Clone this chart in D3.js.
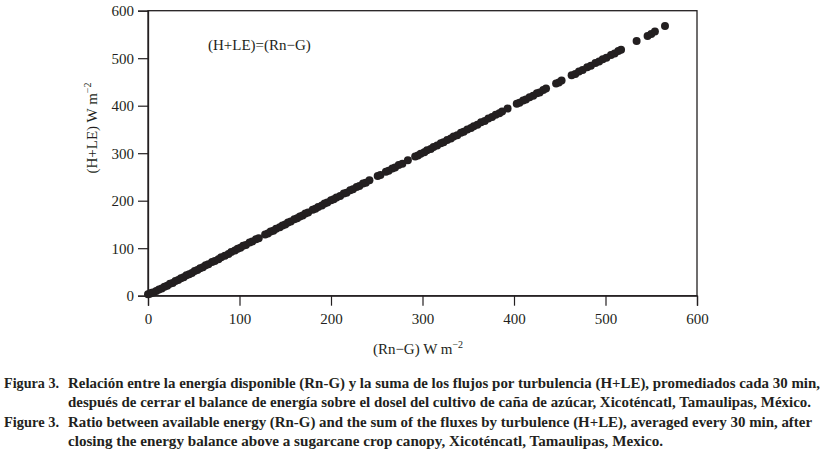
<!DOCTYPE html>
<html>
<head>
<meta charset="utf-8">
<script src="https://cdn.jsdelivr.net/npm/d3@7"></script>
<style>
  body { margin: 0; background: #fff; }
  svg { display: block; }
</style>
</head>
<body>
<div id="chart"></div>
<script>
// available energy (Rn-G) and turbulent fluxes (H+LE), W m-2
const rnG = [0, 2, 4, 6, 9, 12, 15, 18, 21, 24, 27, 30, 33, 36, 39, 42, 45, 48, 51, 54,
  57, 60, 63, 66, 70, 73, 77, 80, 84, 88, 91, 95, 98, 101, 104, 107, 111, 114, 118, 121,
  128, 131, 134, 137, 140, 144, 147, 150, 153, 156, 160, 163, 166, 169, 172, 175, 180, 183, 186, 190,
  193, 196, 200, 203, 206, 210, 214, 217, 221, 224, 228, 231, 235, 238, 242,
  251, 254, 260, 263, 267, 270, 274, 278, 284, 292, 295, 298, 302, 305, 309, 312, 316, 320, 323, 327,
  331, 334, 338, 342, 345, 349, 353, 356, 360, 364, 368, 372, 376, 380, 384, 387, 393,
  403, 406, 410, 413, 417, 421, 425, 428, 432, 435, 446, 449, 452,
  463, 467, 471, 475, 480, 484, 489, 493, 497, 501, 506, 510, 514, 517, 534, 546, 550, 554, 565];
const hLE = [3, 4, 6, 7, 10, 13, 15, 19, 21, 25, 27, 31, 33, 37, 39, 43, 45, 48, 52, 54,
  58, 60, 64, 66, 71, 73, 77, 81, 84, 88, 92, 95, 99, 101, 105, 107, 112, 114, 119, 121,
  129, 131, 135, 137, 141, 144, 148, 150, 154, 156, 161, 163, 167, 169, 173, 175, 181, 183, 187, 190,
  194, 196, 201, 203, 207, 210, 215, 217, 222, 224, 229, 231, 236, 238, 243,
  252, 254, 261, 263, 268, 270, 275, 278, 285, 293, 295, 299, 302, 306, 309, 313, 316, 321, 323, 328,
  331, 335, 338, 343, 345, 350, 353, 357, 360, 365, 368, 373, 376, 381, 384, 388, 394,
  404, 406, 411, 413, 418, 421, 426, 428, 433, 436, 447, 449, 453,
  464, 467, 472, 475, 481, 484, 490, 493, 498, 501, 507, 510, 515, 518, 536, 547, 551, 556, 568];

const xTicks = [0, 100, 200, 300, 400, 500, 600];
const yTicks = [0, 100, 200, 300, 400, 500, 600];

const captionLines = [
  ["Figura 3.", "Relación entre la energía disponible (Rn-G) y la suma de los flujos por turbulencia (H+LE), promediados cada 30 min,"],
  ["", "después de cerrar el balance de energía sobre el dosel del cultivo de caña de azúcar, Xicoténcatl, Tamaulipas, México."],
  ["Figure 3.", "Ratio between available energy (Rn-G) and the sum of the fluxes by turbulence (H+LE), averaged every 30 min, after"],
  ["", "closing the energy balance above a sugarcane crop canopy, Xicoténcatl, Tamaulipas, Mexico."]
];
const captionEnds = [820, 811, 812, 663];

const W = 826, H = 457;
const mLeft = 148, mRight = 697, mTop = 10.7, mBottom = 295.7;
const ink = "#231f20";
const serif = "'Liberation Serif', 'DejaVu Serif', serif";

const svg = d3.select("#chart").append("svg")
    .attr("width", W)
    .attr("height", H);

const x = d3.scaleLinear().domain([0, 600]).range([mLeft, mRight]);
const y = d3.scaleLinear().domain([0, 600]).range([mBottom, mTop]);

// frame
svg.append("rect")
    .attr("x", mLeft).attr("y", mTop)
    .attr("width", mRight - mLeft).attr("height", mBottom - mTop)
    .attr("fill", "none").attr("stroke", ink).attr("stroke-width", 1.3);

const xAxis = svg.append("g")
    .attr("transform", `translate(0,${mBottom})`)
    .call(d3.axisBottom(x).tickValues(xTicks).tickSize(10).tickPadding(8));
const yAxis = svg.append("g")
    .attr("transform", `translate(${mLeft},0)`)
    .call(d3.axisLeft(y).tickValues(yTicks).tickSize(10).tickPadding(4));

[xAxis, yAxis].forEach(g => {
    g.select(".domain").attr("stroke", ink).attr("stroke-width", 1.3);
    g.selectAll(".tick line").attr("stroke", ink).attr("stroke-width", 1.2);
    g.selectAll(".tick text")
        .attr("fill", ink)
        .style("font-family", serif)
        .style("font-size", "15px");
});

// points
svg.append("g").selectAll("circle")
    .data(rnG)
    .join("circle")
    .attr("cx", d => x(d))
    .attr("cy", (d, i) => y(hLE[i]))
    .attr("r", 4)
    .attr("fill", ink);

// annotation
svg.append("text")
    .attr("x", 208).attr("y", 50)
    .attr("fill", ink)
    .style("font-family", serif).style("font-size", "15px")
    .text("(H+LE)=(Rn\u2212G)");

// axis titles
const xt = svg.append("text")
    .attr("x", 418).attr("y", 354)
    .attr("text-anchor", "middle")
    .attr("fill", ink)
    .style("font-family", serif).style("font-size", "15px");
xt.append("tspan").text("(Rn\u2212G) W m");
xt.append("tspan").attr("dy", -6).style("font-size", "10px").text("\u22122");

const yt = svg.append("text")
    .attr("transform", "translate(97,128) rotate(-90)")
    .attr("text-anchor", "middle")
    .attr("fill", ink)
    .style("font-family", serif).style("font-size", "15px");
yt.append("tspan").text("(H+LE) W m");
yt.append("tspan").attr("dy", -6).style("font-size", "10px").text("\u22122");

// caption
const capY = [388, 407, 427, 446];
captionLines.forEach((ln, i) => {
    if (ln[0]) {
        svg.append("text")
            .attr("x", 4).attr("y", capY[i])
            .attr("fill", ink)
            .style("font-family", serif).style("font-size", "15px").style("font-weight", "bold")
            .attr("textLength", 55).attr("lengthAdjust", "spacingAndGlyphs")
            .text(ln[0]);
    }
    svg.append("text")
        .attr("x", 68).attr("y", capY[i])
        .attr("fill", ink)
        .style("font-family", serif).style("font-size", "15px").style("font-weight", "bold")
        .attr("textLength", captionEnds[i] - 68).attr("lengthAdjust", "spacingAndGlyphs")
        .text(ln[1]);
});
</script>
</body>
</html>
